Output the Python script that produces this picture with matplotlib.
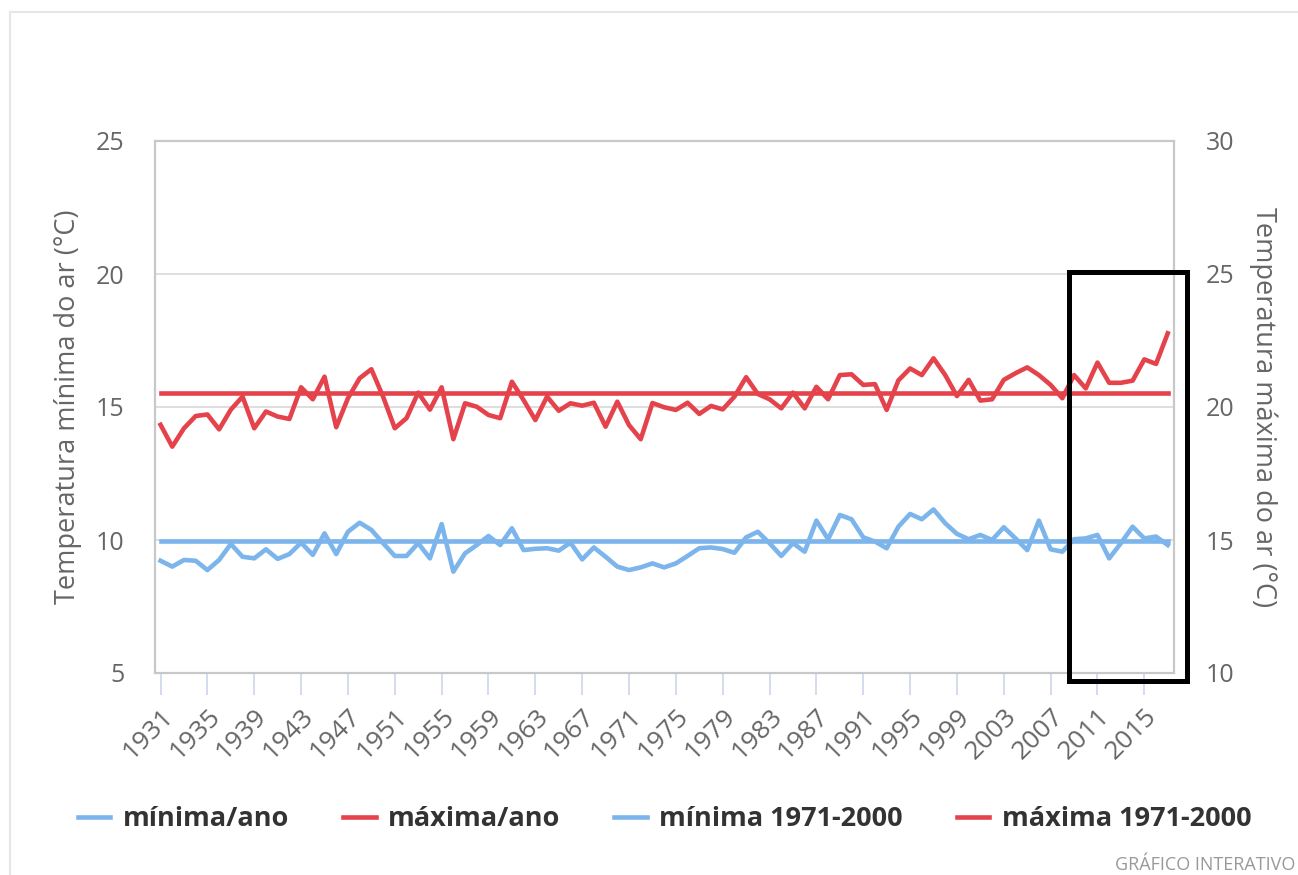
import numpy as np
import matplotlib
matplotlib.use("Agg")
import matplotlib.pyplot as plt
from matplotlib.patches import Rectangle

# years 1931-2017
years = list(range(1931, 2018))

# minimum air temperature per year (left axis, degC)
min_year = [9.22, 9.00, 9.25, 9.22, 8.87, 9.25, 9.85, 9.37, 9.31, 9.65,
            9.29, 9.47, 9.90, 9.44, 10.25, 9.47, 10.31, 10.65, 10.38, 9.88,
            9.40, 9.40, 9.88, 9.31, 10.60, 8.81, 9.50, 9.81, 10.15, 9.81,
            10.44, 9.62, 9.67, 9.69, 9.60, 9.90, 9.27, 9.72, 9.37, 9.00,
            8.87, 8.97, 9.12, 8.97, 9.12, 9.40, 9.69, 9.72, 9.66, 9.52,
            10.10, 10.31, 9.88, 9.40, 9.88, 9.56, 10.73, 10.03, 10.94, 10.78,
            10.10, 9.94, 9.69, 10.50, 10.98, 10.78, 11.15, 10.63, 10.23, 10.03,
            10.19, 10.00, 10.48, 10.06, 9.62, 10.73, 9.65, 9.56, 10.03, 10.06,
            10.19, 9.31, 9.88, 10.50, 10.06, 10.13, 9.81]

# maximum air temperature per year (right axis, degC)
max_year = [19.33, 18.51, 19.20, 19.66, 19.72, 19.16, 19.90, 20.39, 19.20, 19.83,
            19.64, 19.55, 20.74, 20.29, 21.14, 19.24, 20.33, 21.08, 21.42, 20.39,
            19.20, 19.58, 20.54, 19.90, 20.74, 18.79, 20.14, 20.01, 19.70, 19.58,
            20.95, 20.26, 19.51, 20.39, 19.86, 20.14, 20.05, 20.16, 19.26, 20.20,
            19.32, 18.79, 20.15, 19.99, 19.89, 20.16, 19.74, 20.04, 19.91, 20.39,
            21.12, 20.49, 20.29, 19.95, 20.54, 19.95, 20.76, 20.29, 21.20, 21.23,
            20.83, 20.86, 19.89, 21.00, 21.45, 21.20, 21.83, 21.20, 20.41, 21.02,
            20.24, 20.29, 21.02, 21.27, 21.49, 21.20, 20.83, 20.33, 21.20, 20.70,
            21.67, 20.91, 20.91, 20.99, 21.79, 21.62, 22.77]

# 1971-2000 normals
min_normal = 9.98
max_normal = 20.52

tick_years = list(range(1931, 2016, 4))
labels = ["mínima/ano", "máxima/ano", "mínima 1971-2000", "máxima 1971-2000"]

blue = "#7cb5ec"
red = "#e5434b"
txt = "#666666"

plt.rcParams["font.family"] = ["Open Sans", "DejaVu Sans"]

fig = plt.figure(figsize=(12.98, 8.75), dpi=100)
W, H = 1298, 875

# container border
fig.patches.append(Rectangle((10 / W, -0.1), 1.2, 1 - 12 / H + 0.1, transform=fig.transFigure,
                             fill=False, edgecolor="#e6e6e6", linewidth=1.5))

ax = fig.add_axes([154.7 / W, 1 - 673 / H, (1173.6 - 154.7) / W, 532 / H])
ax2 = ax.twinx()

l1, = ax.plot(years, min_year, color=blue, lw=3.3, zorder=3)
l3, = ax.plot([years[0], years[-1]], [min_normal, min_normal], color=blue, lw=3.3, zorder=3)
l2, = ax2.plot(years, max_year, color=red, lw=3.3, zorder=3)
l4, = ax2.plot([years[0], years[-1]], [max_normal, max_normal], color=red, lw=3.3, zorder=3)

ax.set_xlim(1930.5, 2017.5)
ax.set_ylim(5, 25)
ax2.set_ylim(10, 30)
ax.set_yticks([5, 10, 15, 20, 25])
ax2.set_yticks([10, 15, 20, 25, 30])
ax.set_xticks(tick_years)
ax.set_xticklabels([str(y) for y in tick_years], rotation=45, ha="right",
                   rotation_mode="anchor")

ax.grid(axis="y", color="#d8d8d8", lw=1.2)
for a in (ax, ax2):
    for s in a.spines.values():
        s.set_color("#c8c8c8")
        s.set_linewidth(1.5)
ax.tick_params(axis="x", direction="out", length=16, width=1.2, color="#ccd6eb",
               labelsize=19, labelcolor=txt, pad=6)
ax.tick_params(axis="y", length=0, labelsize=18, labelcolor=txt, pad=22)
ax2.tick_params(axis="y", length=0, labelsize=18, labelcolor=txt, pad=23)

ax.set_ylabel("Temperatura mínima do ar (°C)", fontsize=19.5, color=txt, labelpad=10)
ax2.set_ylabel("Temperatura máxima do ar (°C)", fontsize=19.5, color=txt,
               rotation=270, labelpad=31)

fig.legend([l1, l2, l3, l4], labels, loc="center",
           bbox_to_anchor=(0.512, 1 - 819 / H),
           ncol=4, frameon=False, handlelength=1.2, handletextpad=0.45,
           columnspacing=2.0, prop={"weight": "bold", "size": 19.5},
           labelcolor="#333333")

fig.text(1295 / W, 1 - 865 / H, "GRÁFICO INTERATIVO", ha="right", va="center",
         fontsize=13, color="#999999")

# highlight box
fig.patches.append(Rectangle((1068.5 / W, 1 - 681 / H), 118 / W, 409 / H,
                             transform=fig.transFigure, fill=False,
                             edgecolor="black", linewidth=3.6, zorder=10))

fig.savefig("out.png", dpi=100)
